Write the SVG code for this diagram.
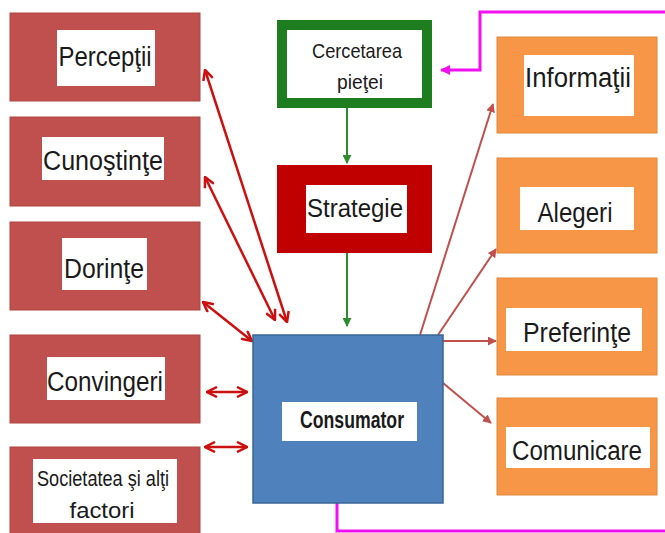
<svg xmlns="http://www.w3.org/2000/svg" width="665" height="533" viewBox="0 0 665 533">
<defs>
<style>
.lbox{fill:#C0504D;stroke:#B04540;stroke-width:1}
.obox{fill:#F79646;stroke:#E0883C;stroke-width:1}
.wl{fill:#ffffff}
.t{font-family:"Liberation Sans","Open Sans",sans-serif;fill:#1a1a1a;text-anchor:middle}
.la{stroke:#CC1010;stroke-width:2.5;fill:none}
.ra{stroke:#C0504D;stroke-width:2;fill:none}
.ga{stroke:#2E8B2E;stroke-width:2;fill:none}
.ma{stroke:#F010F0;stroke-width:3;fill:none}
</style>
<marker id="mL" viewBox="0 0 12 12" refX="11" refY="6" markerWidth="12" markerHeight="12" markerUnits="userSpaceOnUse" orient="auto-start-reverse">
<path d="M1,1 L11,6 L1,11" fill="none" stroke="#CC1010" stroke-width="2.5"/>
</marker>
<marker id="mR" viewBox="0 0 10 10" refX="9" refY="5" markerWidth="9" markerHeight="9" markerUnits="userSpaceOnUse" orient="auto">
<path d="M0,0 L10,5 L0,10 z" fill="#C0504D"/>
</marker>
<marker id="mG" viewBox="0 0 10 10" refX="9" refY="5" markerWidth="9" markerHeight="9" markerUnits="userSpaceOnUse" orient="auto">
<path d="M0,0 L10,5 L0,10 z" fill="#2E8B2E"/>
</marker>
<marker id="mM" viewBox="0 0 10 10" refX="9" refY="5" markerWidth="10" markerHeight="10" markerUnits="userSpaceOnUse" orient="auto">
<path d="M0,0 L10,5 L0,10 z" fill="#F010F0"/>
</marker>
</defs>
<rect width="665" height="533" fill="#ffffff"/>

<g id="connectors">
<line class="la" x1="205" y1="70" x2="287" y2="322" marker-start="url(#mL)" marker-end="url(#mL)"/>
<line class="la" x1="205" y1="177" x2="275" y2="320" marker-start="url(#mL)" marker-end="url(#mL)"/>
<line class="la" x1="203" y1="302" x2="252" y2="341" marker-start="url(#mL)" marker-end="url(#mL)"/>
<line class="la" x1="207" y1="392" x2="247" y2="392" marker-start="url(#mL)" marker-end="url(#mL)"/>
<line class="la" x1="205" y1="447" x2="247" y2="447" marker-start="url(#mL)" marker-end="url(#mL)"/>
<line class="ga" x1="347" y1="108" x2="347" y2="163" marker-end="url(#mG)"/>
<line class="ga" x1="347" y1="253" x2="347" y2="326" marker-end="url(#mG)"/>
<line class="ra" x1="420" y1="335" x2="493" y2="104" marker-end="url(#mR)"/>
<line class="ra" x1="438" y1="335" x2="496" y2="249" marker-end="url(#mR)"/>
<line class="ra" x1="443" y1="341" x2="496" y2="341" marker-end="url(#mR)"/>
<line class="ra" x1="443" y1="383" x2="491" y2="423" marker-end="url(#mR)"/>
<polyline class="ma" points="665,12 480,12 480,70 441,70" marker-end="url(#mM)"/>
<polyline class="ma" points="337,503 337,531 665,531"/>
</g>

<g id="perceptii">
<rect class="lbox" x="10" y="13" width="190" height="88"/>
<rect class="wl" x="57" y="30" width="98" height="56"/>
<text class="t" x="105" y="66" font-size="27" textLength="93" lengthAdjust="spacingAndGlyphs">Percepţii</text>
</g>
<g id="cunostinte">
<rect class="lbox" x="10" y="117" width="190" height="89"/>
<rect class="wl" x="42" y="137" width="122" height="43"/>
<text class="t" x="103" y="170" font-size="27" textLength="120" lengthAdjust="spacingAndGlyphs">Cunoştinţe</text>
</g>
<g id="dorinte">
<rect class="lbox" x="10" y="222" width="190" height="88"/>
<rect class="wl" x="62" y="238" width="85" height="52"/>
<text class="t" x="104" y="278" font-size="27" textLength="80" lengthAdjust="spacingAndGlyphs">Dorinţe</text>
</g>
<g id="convingeri">
<rect class="lbox" x="10" y="335" width="190" height="88"/>
<rect class="wl" x="47" y="357" width="118" height="43"/>
<text class="t" x="105" y="391" font-size="27" textLength="116" lengthAdjust="spacingAndGlyphs">Convingeri</text>
</g>
<g id="societatea">
<rect class="lbox" x="10" y="447" width="190" height="90"/>
<rect class="wl" x="33" y="459" width="144" height="64"/>
<text class="t" x="103" y="486" font-size="22" textLength="132" lengthAdjust="spacingAndGlyphs">Societatea şi alţi</text>
<text class="t" x="102" y="518" font-size="22" textLength="65" lengthAdjust="spacingAndGlyphs">factori</text>
</g>

<g id="cercetarea">
<rect x="282" y="25" width="145" height="78" fill="#ffffff" stroke="#1E7D1E" stroke-width="10"/>
<text class="t" x="357" y="58" font-size="21" textLength="90" lengthAdjust="spacingAndGlyphs">Cercetarea</text>
<text class="t" x="360" y="89" font-size="21" textLength="46" lengthAdjust="spacingAndGlyphs">pieţei</text>
</g>
<g id="strategie">
<rect x="277" y="165" width="155" height="88" fill="#C00000"/>
<rect class="wl" x="306" y="185" width="101" height="48"/>
<text class="t" x="355" y="217" font-size="26" textLength="96" lengthAdjust="spacingAndGlyphs">Strategie</text>
</g>
<g id="consumator">
<rect x="253" y="335" width="190" height="168" fill="#4F81BD" stroke="#3A6597" stroke-width="1.5"/>
<rect class="wl" x="282" y="402" width="135" height="39"/>
<text class="t" x="352" y="428" font-size="23" font-weight="bold" textLength="104" lengthAdjust="spacingAndGlyphs">Consumator</text>
</g>

<g id="informatii">
<rect class="obox" x="497" y="37" width="160" height="96"/>
<rect class="wl" x="524" y="55" width="110" height="61"/>
<text class="t" x="578" y="87" font-size="27" textLength="106" lengthAdjust="spacingAndGlyphs">Informaţii</text>
</g>
<g id="alegeri">
<rect class="obox" x="497" y="158" width="160" height="95"/>
<rect class="wl" x="520" y="187" width="114" height="43"/>
<text class="t" x="575" y="222" font-size="27" textLength="75" lengthAdjust="spacingAndGlyphs">Alegeri</text>
</g>
<g id="preferinte">
<rect class="obox" x="497" y="278" width="160" height="97"/>
<rect class="wl" x="506" y="308" width="136" height="43"/>
<text class="t" x="577" y="342" font-size="27" textLength="108" lengthAdjust="spacingAndGlyphs">Preferinţe</text>
</g>
<g id="comunicare">
<rect class="obox" x="497" y="398" width="160" height="97"/>
<rect class="wl" x="506" y="427" width="144" height="41"/>
<text class="t" x="577" y="460" font-size="27" textLength="130" lengthAdjust="spacingAndGlyphs">Comunicare</text>
</g>
</svg>
